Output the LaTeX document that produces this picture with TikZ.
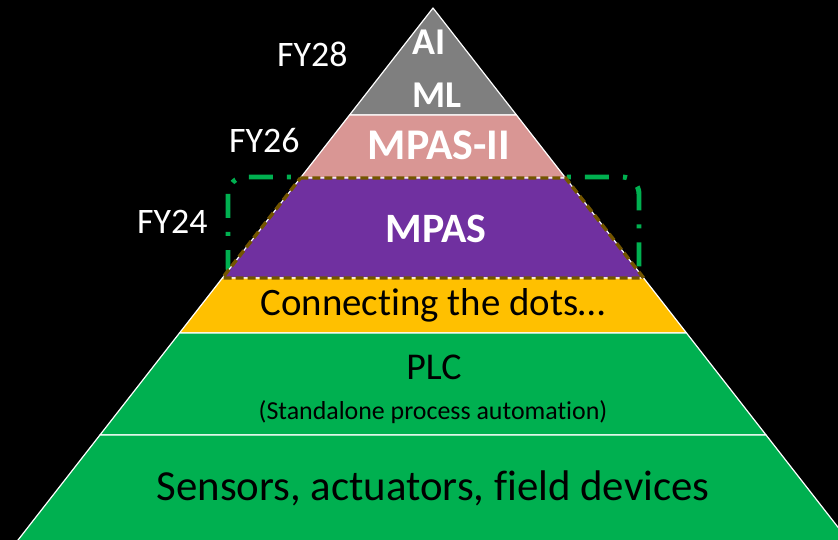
\documentclass[tikz,border=0pt]{standalone}
\usepackage{fontspec}
\setmainfont{Carlito}[Ligatures=NoCommon]
\definecolor{aigray}{RGB}{127,127,127}
\definecolor{mpaspink}{RGB}{217,150,148}
\definecolor{mpaspurple}{RGB}{112,48,160}
\definecolor{dotsyellow}{RGB}{255,192,0}
\definecolor{plcgreen}{RGB}{0,176,80}
\definecolor{dashbrown}{RGB}{115,85,0}

\begin{document}
\begin{tikzpicture}[x=1bp, y=-1bp,
    layer/.style={draw=white, line width=1.2pt, line join=round},
    target/.style={draw=plcgreen, line width=5pt, rounded corners=17bp,
      dash pattern=on 24bp off 14bp on 4bp off 14bp},
    current/.style={draw=dashbrown, line width=3.5pt, dash pattern=on 8bp off 4bp},
    year/.style={text=white, inner sep=0pt, font=\fontsize{36}{42}\selectfont},
    title/.style={text=white, inner sep=0pt, font=\bfseries\fontsize{42}{48}\selectfont},
    caption/.style={text=black, inner sep=0pt, font=\fontsize{39}{46}\selectfont}]
  \useasboundingbox (0,0) rectangle (838,540);
  \fill[black] (0,0) rectangle (838,540);
  \clip (0,0) rectangle (838,540);
  % A slice of the pyramid: #1 = top y, #2 = bottom y, #3 = options of the path.
  \newcommand{\pyrslice}[3]{%
    \path[#3] ({433-0.78*(#1-8)},#1) -- ({433+0.78*(#1-8)},#1)
      -- ({433+0.78*(#2-8)},#2) -- ({433-0.78*(#2-8)},#2) -- cycle;}

  % the FY24 frame sits behind the pyramid
  \draw[target] (228,177) rectangle (639,284);

  \pyrslice{8}{115}{layer, fill=aigray}
  \pyrslice{115}{178}{layer, fill=mpaspink}
  \pyrslice{178}{278}{layer, fill=mpaspurple}
  \pyrslice{278}{333}{layer, fill=dotsyellow}
  \pyrslice{333}{435}{layer, fill=plcgreen}
  \pyrslice{435}{560}{layer, fill=plcgreen}
  \pyrslice{178}{278}{current}

  \node[title, anchor=base west, font=\bfseries\fontsize{38}{44}\selectfont] (ai) at (412,55) {AI};
  \node[title, anchor=base west, font=\bfseries\fontsize{38}{44}\selectfont] (ml) at (412,108) {ML};
  \node[title, anchor=base, font=\bfseries\fontsize{44}{50}\selectfont] (mpasii) at (439,160) {MPAS-II};
  \node[title, anchor=base] (mpas) at (436,243) {MPAS};
  \node[caption, anchor=base] (dots) at (433,316) {Connecting the dots…};
  \node[caption, anchor=base, font=\fontsize{38}{44}\selectfont] (plc) at (434,379) {PLC};
  \node[caption, anchor=base, font=\fontsize{26}{30}\selectfont] (plcnote) at (433,419) {(Standalone process automation)};
  \node[caption, anchor=base, font=\fontsize{43}{50}\selectfont] (sensors) at (433,500) {Sensors, actuators, field devices};

  \node[year, anchor=base west] (fy28) at (277,67) {FY28};
  \node[year, anchor=base west] (fy26) at (229,153) {FY26};
  \node[year, anchor=base west] (fy24) at (137,234) {FY24};
\end{tikzpicture}
\end{document}
